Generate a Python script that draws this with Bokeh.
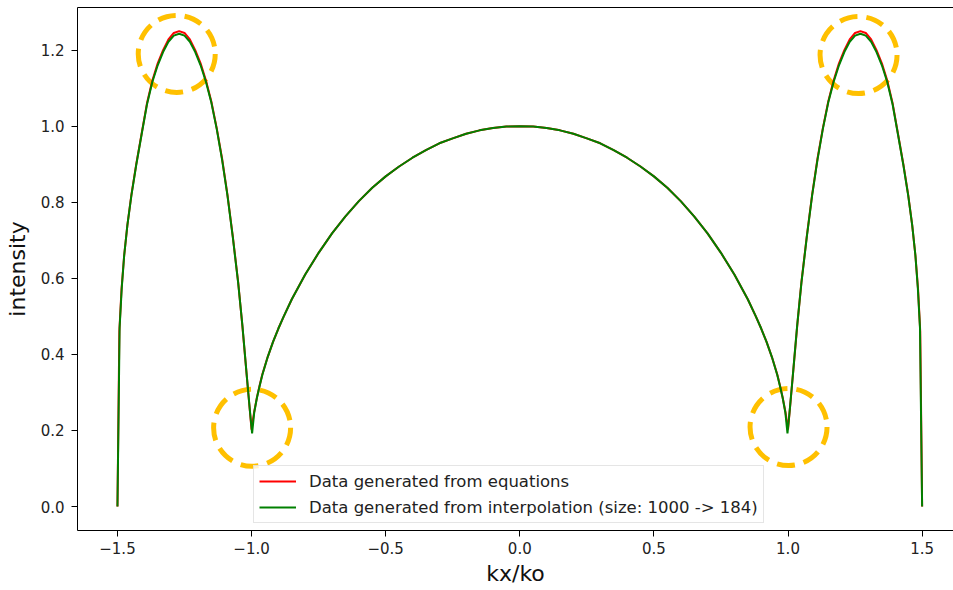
from bokeh.plotting import figure
from bokeh.models import Range1d, LinearAxis, Legend, LegendItem, FixedTicker, CustomJSTickFormatter
from bokeh.embed import file_html
from bokeh.resources import INLINE

# ---- data ----
eq_x = [-1.500, -1.493, -1.485, -1.475, -1.463, -1.448, -1.430, -1.410, -1.390, -1.370,
        -1.350, -1.330, -1.310, -1.290, -1.270, -1.250, -1.230, -1.210, -1.190, -1.170,
        -1.150, -1.130, -1.110, -1.090, -1.070, -1.050, -1.035, -1.020, -1.010, -1.003,
        -1.000, -0.995, -0.990, -0.980, -0.970, -0.960, -0.940, -0.920, -0.900, -0.880,
        -0.850, -0.800, -0.750, -0.700, -0.650, -0.600, -0.550, -0.500, -0.450, -0.400,
        -0.350, -0.300, -0.250, -0.200, -0.150, -0.100, -0.050, 0.000,
        0.050, 0.100, 0.150, 0.200, 0.250, 0.300, 0.350, 0.400, 0.450, 0.500,
        0.550, 0.600, 0.650, 0.700, 0.750, 0.800, 0.850, 0.880, 0.900, 0.920,
        0.940, 0.960, 0.970, 0.980, 0.990, 0.995, 1.000, 1.003, 1.010, 1.020,
        1.035, 1.050, 1.070, 1.090, 1.110, 1.130, 1.150, 1.170, 1.190, 1.210,
        1.230, 1.250, 1.270, 1.290, 1.310, 1.330, 1.350, 1.370, 1.390, 1.410,
        1.430, 1.448, 1.463, 1.475, 1.485, 1.493, 1.500]
eq_y = [0.000, 0.460, 0.570, 0.660, 0.740, 0.820, 0.900, 0.980, 1.060, 1.120,
        1.165, 1.200, 1.228, 1.245, 1.250, 1.245, 1.228, 1.200, 1.165, 1.120,
        1.065, 0.995, 0.915, 0.820, 0.710, 0.590, 0.480, 0.360, 0.280, 0.225,
        0.202, 0.228, 0.250, 0.287, 0.318, 0.347, 0.393, 0.433, 0.468, 0.500,
        0.545, 0.610, 0.667, 0.718, 0.763, 0.803, 0.838, 0.868, 0.894, 0.917,
        0.937, 0.955, 0.968, 0.980, 0.989, 0.995, 0.999, 1.000,
        0.999, 0.995, 0.989, 0.980, 0.968, 0.955, 0.937, 0.917, 0.894, 0.868,
        0.838, 0.803, 0.763, 0.718, 0.667, 0.610, 0.545, 0.500, 0.468, 0.433,
        0.393, 0.347, 0.318, 0.287, 0.250, 0.228, 0.202, 0.225, 0.280, 0.360,
        0.480, 0.590, 0.710, 0.820, 0.915, 0.995, 1.065, 1.120, 1.165, 1.200,
        1.228, 1.245, 1.250, 1.245, 1.228, 1.200, 1.165, 1.120, 1.060, 0.980,
        0.900, 0.820, 0.740, 0.660, 0.570, 0.460, 0.000]

interp_x = [-1.500, -1.492, -1.484, -1.475, -1.463, -1.448, -1.430, -1.410, -1.390, -1.370,
            -1.350, -1.330, -1.310, -1.290, -1.270, -1.250, -1.230, -1.210, -1.190, -1.170,
            -1.150, -1.130, -1.110, -1.090, -1.070, -1.050, -1.034, -1.018, -1.006, -0.998,
            -0.990, -0.980, -0.970, -0.960, -0.940, -0.920, -0.900, -0.880, -0.850, -0.800,
            -0.750, -0.700, -0.650, -0.600, -0.550, -0.500, -0.450, -0.400, -0.350, -0.300,
            -0.250, -0.200, -0.150, -0.100, -0.050, 0.000,
            0.050, 0.100, 0.150, 0.200, 0.250, 0.300, 0.350, 0.400, 0.450, 0.500,
            0.550, 0.600, 0.650, 0.700, 0.750, 0.800, 0.850, 0.880, 0.900, 0.920,
            0.940, 0.960, 0.970, 0.980, 0.990, 0.998, 1.006, 1.018, 1.034, 1.050,
            1.070, 1.090, 1.110, 1.130, 1.150, 1.170, 1.190, 1.210, 1.230, 1.250,
            1.270, 1.290, 1.310, 1.330, 1.350, 1.370, 1.390, 1.410, 1.430, 1.448,
            1.463, 1.475, 1.484, 1.492, 1.500]
interp_y = [0.000, 0.470, 0.575, 0.660, 0.740, 0.818, 0.898, 0.978, 1.057, 1.116,
            1.160, 1.195, 1.222, 1.238, 1.243, 1.238, 1.222, 1.195, 1.160, 1.116,
            1.062, 0.993, 0.912, 0.818, 0.708, 0.588, 0.475, 0.345, 0.250, 0.192,
            0.248, 0.286, 0.317, 0.346, 0.393, 0.433, 0.468, 0.500, 0.545, 0.610,
            0.667, 0.718, 0.763, 0.803, 0.838, 0.868, 0.894, 0.917, 0.937, 0.955,
            0.968, 0.980, 0.989, 0.995, 0.999, 1.000,
            0.999, 0.995, 0.989, 0.980, 0.968, 0.955, 0.937, 0.917, 0.894, 0.868,
            0.838, 0.803, 0.763, 0.718, 0.667, 0.610, 0.545, 0.500, 0.468, 0.433,
            0.393, 0.346, 0.317, 0.286, 0.248, 0.192, 0.250, 0.345, 0.475, 0.588,
            0.708, 0.818, 0.912, 0.993, 1.062, 1.116, 1.160, 1.195, 1.222, 1.238,
            1.243, 1.238, 1.222, 1.195, 1.160, 1.116, 1.057, 0.978, 0.898, 0.818,
            0.740, 0.660, 0.575, 0.470, 0.000]

highlight_x = [-1.279, -0.998, 1.002, 1.263]
highlight_y = [1.190, 0.207, 0.209, 1.187]

x_ticks = [-1.5, -1.0, -0.5, 0.0, 0.5, 1.0, 1.5]
y_ticks = [0.0, 0.2, 0.4, 0.6, 0.8, 1.0, 1.2]

FONT = "DejaVu Sans"

p = figure(width=953, height=590, output_backend="svg", toolbar_location=None,
           x_range=Range1d(-1.649, 1.617), y_range=Range1d(-0.063, 1.312),
           min_border_left=77, min_border_right=0, min_border_top=7, min_border_bottom=60,
           background_fill_color="white", border_fill_color="white")
p.outline_line_color = None
p.xgrid.visible = False
p.ygrid.visible = False

fmt = CustomJSTickFormatter(code="return (tick < -1e-9 ? '\u2212' : '') + Math.abs(tick).toFixed(1);")

for ax, ticks in ((p.xaxis[0], x_ticks), (p.yaxis[0], y_ticks)):
    ax.ticker = FixedTicker(ticks=ticks)
    ax.formatter = fmt
    ax.minor_tick_line_color = None
    ax.major_tick_in = 0
    ax.major_tick_out = 6
    ax.major_tick_line_color = "black"
    ax.axis_line_color = "black"
    ax.axis_line_width = 1
    ax.major_label_text_font = FONT
    ax.major_label_text_font_size = "15px"
    ax.major_label_text_color = "#222222"
    ax.axis_label_text_font = FONT
    ax.axis_label_text_font_size = "22px"
    ax.axis_label_text_font_style = "normal"
    ax.axis_label_text_color = "#111111"

p.xaxis[0].axis_label = "kx/ko"
p.xaxis[0].major_label_standoff = 5
p.xaxis[0].axis_label_standoff = 4
p.yaxis[0].axis_label = "intensity"
p.yaxis[0].major_label_standoff = 7
p.yaxis[0].axis_label_standoff = 8

top = LinearAxis(ticker=FixedTicker(ticks=[]), major_tick_out=0, major_tick_in=0,
                 minor_tick_line_color=None, major_label_standoff=0,
                 major_label_text_font_size="0px", axis_line_color="black")
p.add_layout(top, "above")

p.scatter(highlight_x, highlight_y, marker="circle", size=77, fill_color=None,
          line_color="#FFC000", line_width=5, line_dash="18 9")

r_eq = p.line(eq_x, eq_y, line_color="#FF0000", line_width=2)
r_in = p.line(interp_x, interp_y, line_color="#008000", line_width=2)

legend = Legend(items=[
    LegendItem(label="Data generated from equations", renderers=[r_eq]),
    LegendItem(label="Data generated from interpolation (size: 1000 -> 184)", renderers=[r_in]),
], location=(176, 7))
legend.margin = 0
legend.padding = 5
legend.spacing = 6
legend.glyph_width = 37
legend.glyph_height = 20
legend.label_height = 20
legend.label_standoff = 13
legend.label_text_font = FONT
legend.label_text_font_size = "16.5px"
legend.label_text_color = "#222222"
legend.border_line_color = "#cccccc"
legend.border_line_width = 1
legend.background_fill_color = "white"
legend.background_fill_alpha = 0.8
p.add_layout(legend, "center")

open("out.html", "w").write(file_html(p, INLINE))
